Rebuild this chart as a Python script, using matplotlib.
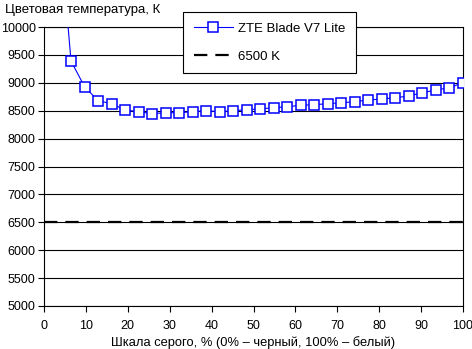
import numpy as np
import matplotlib
matplotlib.use("Agg")
import matplotlib.pyplot as plt

plt.rcParams['font.family'] = ['Liberation Sans', 'DejaVu Sans']

# grey level, % (0% = black, 100% = white)
gray_pct = [3.23, 6.45, 9.68, 12.90, 16.13, 19.35, 22.58, 25.81, 29.03, 32.26,
            35.48, 38.71, 41.94, 45.16, 48.39, 51.61, 54.84, 58.06, 61.29, 64.52,
            67.74, 70.97, 74.19, 77.42, 80.65, 83.87, 87.10, 90.32, 93.55, 96.77,
            100.0]
# colour temperature, K
color_temp = [12200, 9390, 8930, 8680, 8625, 8513, 8482, 8447, 8464, 8464,
              8482, 8500, 8482, 8500, 8518, 8533, 8554, 8572, 8597, 8608,
              8625, 8643, 8661, 8692, 8710, 8733, 8763, 8823, 8871, 8912,
              9002]
reference_temp = 6500

series_name = "ZTE Blade V7 Lite"
reference_name = "6500 K"

fig = plt.figure(figsize=(4.72, 3.49), dpi=100)
ax = fig.add_axes([44 / 472, 43 / 349, 419 / 472, 279 / 349])

ax.axhline(reference_temp, color='black', lw=1.6, ls=(0, (6, 3.6)), label=reference_name, zorder=3)
ax.plot(gray_pct, color_temp, color='#0000ff', lw=0.8, marker='s', markersize=6.5,
        markerfacecolor='white', markeredgecolor='#0000ff', markeredgewidth=1.1,
        label=series_name, zorder=4)

ax.set_xlim(0, 100)
ax.set_ylim(5000, 10000)
ax.set_xticks(np.arange(0, 101, 10))
ax.set_yticks(np.arange(5000, 10001, 500))
ax.yaxis.grid(True, color='black', lw=0.8)
ax.set_axisbelow(True)
for side in ['left', 'bottom', 'right', 'top']:
    ax.spines[side].set_linewidth(0.8)
ax.tick_params(axis='both', direction='out', length=4, width=0.8, labelsize=9)
ax.tick_params(axis='y', pad=2)
ax.tick_params(axis='x', pad=6)

ax.set_xlabel("Шкала серого, % (0% – черный, 100% – белый)", fontsize=9.3, labelpad=3)
fig.text(5 / 472, 1 - 10 / 349, "Цветовая температура, К", fontsize=9.5, va='center', ha='left')

handles, labels = ax.get_legend_handles_labels()
leg = fig.legend(handles[::-1], labels[::-1], loc='upper left',
                 bbox_to_anchor=(183 / 472, 1 - 12 / 349), frameon=True, fancybox=False,
                 edgecolor='black', framealpha=1, fontsize=9.5, handlelength=3.0,
                 handletextpad=0.4, labelspacing=1.2, borderpad=0.8, borderaxespad=0)
leg.get_frame().set_linewidth(0.8)

fig.savefig("out.png", dpi=100)
